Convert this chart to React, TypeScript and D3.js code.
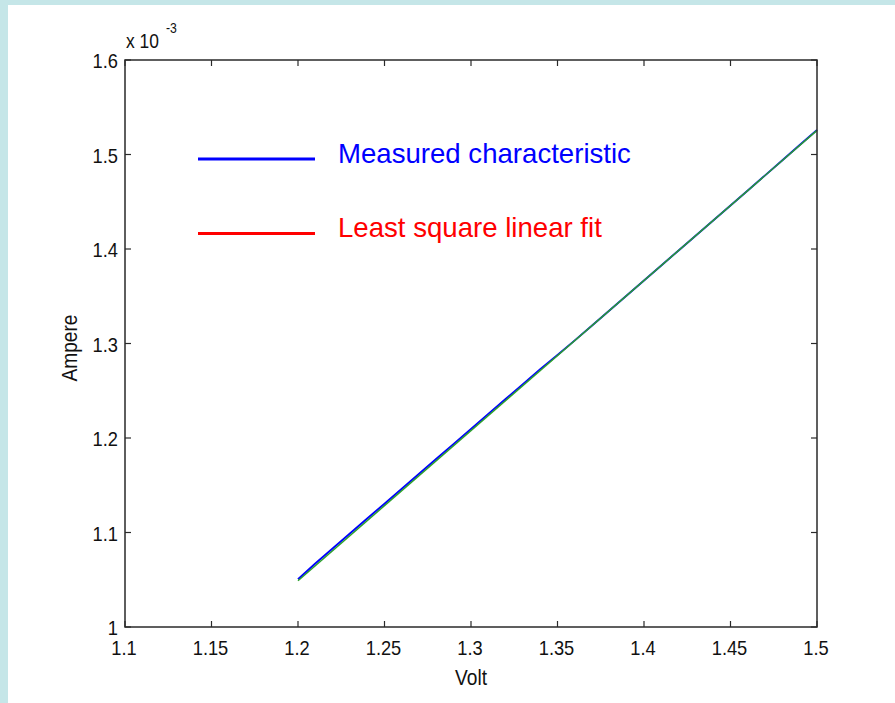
import React from "react";
import * as d3 from "d3";

const volts = [1.20, 1.21, 1.22, 1.23, 1.24, 1.25, 1.26, 1.27, 1.28, 1.29, 1.30, 1.31, 1.32, 1.33, 1.34, 1.35, 1.36, 1.37, 1.38, 1.39, 1.40, 1.41, 1.42, 1.43, 1.44, 1.45, 1.46, 1.47, 1.48, 1.49, 1.50];
// measured current, in units of 1e-3 A
const measured = [1.0505, 1.0672, 1.0830, 1.0990, 1.1148, 1.1305, 1.1462, 1.1622, 1.1780, 1.1938, 1.2096, 1.2255, 1.2412, 1.2570, 1.2729, 1.2879, 1.3033, 1.3191, 1.3350, 1.3508, 1.3667, 1.3826, 1.3985, 1.4143, 1.4302, 1.4461, 1.4620, 1.4779, 1.4940, 1.5101, 1.5260];
const fitVolts = [1.2, 1.5];
const fitValues = [1.0490, 1.5255];
const xTicks = [1.1, 1.15, 1.2, 1.25, 1.3, 1.35, 1.4, 1.45, 1.5];
const yTicks = [1.0, 1.1, 1.2, 1.3, 1.4, 1.5, 1.6];
const legendLabels = ["Measured characteristic", "Least square linear fit"];
const legendColors = ["#0000ff", "#ff0000"];

const W = 895, H = 703;
const L = 125, R = 817, T = 60, B = 627;
const SX = 0.87;

function NText(props: { x: number; y: number; anchor?: string; size: number; rotate?: number; children: React.ReactNode }) {
  const { x, y, anchor = "start", size, rotate = 0, children } = props;
  return (
    <text
      transform={`translate(${x},${y}) rotate(${rotate}) scale(${SX},1)`}
      textAnchor={anchor}
      fontSize={size}
      fill="#111"
    >
      {children}
    </text>
  );
}

export default function App() {
  const x = d3.scaleLinear().domain([1.1, 1.5]).range([L, R]);
  const y = d3.scaleLinear().domain([1.0, 1.6]).range([B, T]);
  const line = d3.line<[number, number]>().x(d => x(d[0])).y(d => y(d[1]));
  const measPts = volts.map((v, i) => [v, measured[i]] as [number, number]);
  const fitPts = fitVolts.map((v, i) => [v, fitValues[i]] as [number, number]);
  const font = "'Liberation Sans', Arial, sans-serif";
  const tick = 6;
  const axisColor = "#2a2a2a";
  const fmtX = (v: number) => String(+v.toFixed(2));
  const fmtY = (v: number) => String(+v.toFixed(1));
  return (
    <svg width={W} height={H} style={{ position: "absolute", left: 0, top: 0, display: "block" }} fontFamily={font}>
      <rect x={0} y={0} width={W} height={H} fill="#ffffff" />
      <rect x={0} y={0} width={W} height={5} fill="#c5e6e8" />
      <rect x={0} y={0} width={8} height={H} fill="#c5e6e8" />
      <path d={line(measPts) || ""} fill="none" stroke="#0000ff" strokeWidth={1.9} />
      <path d={line(fitPts) || ""} fill="none" stroke="#2ca02c" strokeWidth={1.5} />
      <rect x={L} y={T} width={R - L} height={B - T} fill="none" stroke={axisColor} strokeWidth={1.5} />
      {xTicks.map(t => (
        <g key={"x" + t}>
          <line x1={x(t)} x2={x(t)} y1={B} y2={B - tick} stroke={axisColor} strokeWidth={1.2} />
          <line x1={x(t)} x2={x(t)} y1={T} y2={T + tick} stroke={axisColor} strokeWidth={1.2} />
          <NText x={x(t) - 1} y={655} anchor="middle" size={21}>{fmtX(t)}</NText>
        </g>
      ))}
      {yTicks.map(t => (
        <g key={"y" + t}>
          <line x1={L} x2={L + tick} y1={y(t)} y2={y(t)} stroke={axisColor} strokeWidth={1.2} />
          <line x1={R} x2={R - tick} y1={y(t)} y2={y(t)} stroke={axisColor} strokeWidth={1.2} />
          <NText x={L - 7} y={y(t) + 8} anchor="end" size={21}>{fmtY(t)}</NText>
        </g>
      ))}
      <NText x={126} y={48} size={20}>x 10</NText>
      <NText x={166} y={33} size={14}>-3</NText>
      <NText x={x(1.3)} y={685} anchor="middle" size={22}>Volt</NText>
      <NText x={77} y={348} anchor="middle" size={22} rotate={-90}>Ampere</NText>
      {legendLabels.map((lab, i) => (
        <g key={lab}>
          <line x1={198} x2={315} y1={159 + i * 74.5} y2={159 + i * 74.5} stroke={legendColors[i]} strokeWidth={3} />
          <text x={338} y={163 + i * 74} fontSize={27.6} fill={legendColors[i]}>{lab}</text>
        </g>
      ))}
    </svg>
  );
}
